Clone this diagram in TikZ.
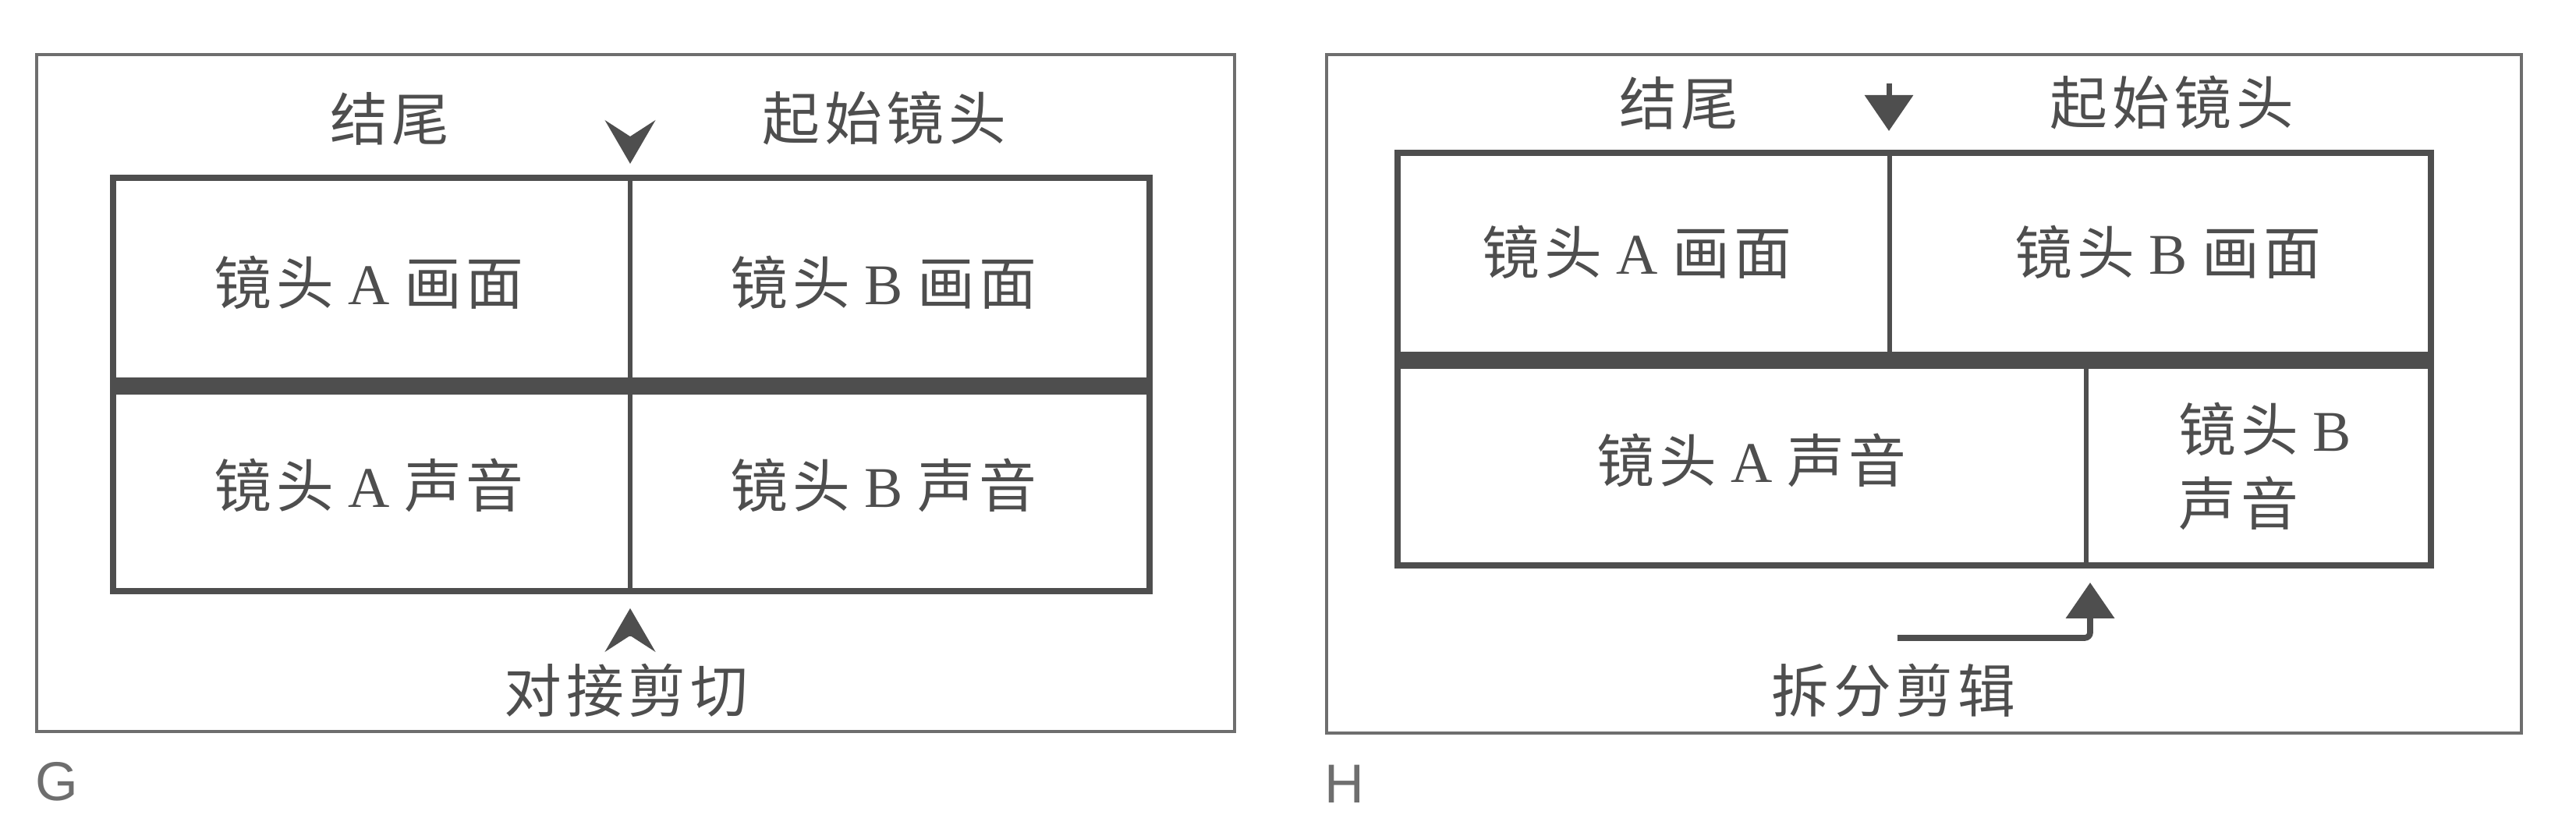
\documentclass[tikz,border=0pt]{standalone}
\usepackage{fontspec}
\setmainfont{Liberation Serif}
\newfontfamily\cjk{Noto Sans CJK SC}[LetterSpace=8]
\newfontfamily\tagfont{Liberation Sans}
\usepackage{xcolor}
\usetikzlibrary{arrows.meta}
\definecolor{inkgray}{HTML}{4E4E4E}
\definecolor{framegray}{HTML}{6E6E6E}

\begin{document}
\begin{tikzpicture}[
  box/.style={framegray,line width=1.1pt},
  track/.style={inkgray,line width=2.4pt},
  split/.style={inkgray,line width=6pt},
  cutline/.style={inkgray,line width=1.7pt},
  lbl/.style={text=inkgray,font=\fontsize{21}{27}\selectfont,inner sep=0pt},
  tag/.style={text=framegray,font=\tagfont\fontsize{20}{24}\selectfont,inner sep=0pt},
  chev/.style={inkgray,line width=0.4pt,-{Stealth[length=5.6mm,width=6.5mm,inset=2.1mm]}},
  tri/.style={inkgray,line width=2.2pt,-{Triangle[length=4.6mm,width=6.1mm]}}]
  \useasboundingbox (0,0) rectangle (33.03,10.72);
  % G
  \draw[box] (0.47,1.34) rectangle (15.83,10.02);
  \coordinate (gNW) at (1.45,8.44); \coordinate (gSE) at (14.74,3.14);
  \coordinate (gML) at (1.45,5.77); \coordinate (gMR) at (14.74,5.77);
  \coordinate (gT) at (8.08,8.44); \coordinate (gB) at (8.08,3.14);
  \draw[cutline] (gT) -- (gB);
  \draw[split] (gML) -- (gMR);
  \draw[track] (gNW) rectangle (gSE);
  \coordinate (gTopTip) at (8.08,8.62); \coordinate (gTopBack) at (8.08,8.97);
  \coordinate (gBotTip) at (8.08,2.92); \coordinate (gBotBack) at (8.08,2.57);
  \draw[chev] (gTopBack) -- (gTopTip);
  \draw[chev] (gBotBack) -- (gBotTip);
  \node[lbl] (gEnd) at (5.00,9.20) {\cjk 结尾};
  \node[lbl] (gStart) at (11.34,9.20) {\cjk 起始镜头};
  \node[lbl] (gAV) at (4.73,7.10) {{\cjk 镜头} A {\cjk 画面}};
  \node[lbl] (gBV) at (11.33,7.10) {{\cjk 镜头} B {\cjk 画面}};
  \node[lbl] (gAS) at (4.73,4.50) {{\cjk 镜头} A {\cjk 声音}};
  \node[lbl] (gBS) at (11.33,4.50) {{\cjk 镜头} B {\cjk 声音}};
  \node[lbl] (gCut) at (8.03,1.87) {\cjk 对接剪切};
  \node[tag] (gTag) at (0.73,0.70) {G};
  % H
  \draw[box] (17.01,1.32) rectangle (32.33,10.02);
  \coordinate (hNW) at (17.92,8.76); \coordinate (hSE) at (31.17,3.47);
  \coordinate (hML) at (17.92,6.10); \coordinate (hMR) at (31.17,6.10);
  \coordinate (hT) at (24.23,8.76); \coordinate (hTM) at (24.23,6.10);
  \coordinate (hBM) at (26.75,6.10); \coordinate (hB) at (26.75,3.47);
  \draw[cutline] (hT) -- (hTM);
  \draw[cutline] (hBM) -- (hB);
  \draw[split] (hML) -- (hMR);
  \draw[track] (hNW) rectangle (hSE);
  \coordinate (hTopStem) at (24.22,9.65); \coordinate (hTopTip) at (24.22,9.04);
  \coordinate (hBotStart) at (24.33,2.54); \coordinate (hBotTip) at (26.80,3.25);
  \draw[tri,line width=2pt] (hTopStem) -- (hTopTip);
  \draw[tri,rounded corners=2pt] (hBotStart) -| (hBotTip);
  \node[lbl] (hEnd) at (21.53,9.40) {\cjk 结尾};
  \node[lbl] (hStart) at (27.85,9.40) {\cjk 起始镜头};
  \node[lbl] (hAV) at (20.99,7.49) {{\cjk 镜头} A {\cjk 画面}};
  \node[lbl] (hBV) at (27.80,7.49) {{\cjk 镜头} B {\cjk 画面}};
  \node[lbl] (hAS) at (22.46,4.82) {{\cjk 镜头} A {\cjk 声音}};
  \node[lbl,align=left,anchor=west] (hBS) at (27.93,4.74) {{\cjk 镜头} B\\{\cjk 声音}};
  \node[lbl] (hCut) at (24.28,1.87) {\cjk 拆分剪辑};
  \node[tag] (hTag) at (17.24,0.67) {H};
\end{tikzpicture}
\end{document}
